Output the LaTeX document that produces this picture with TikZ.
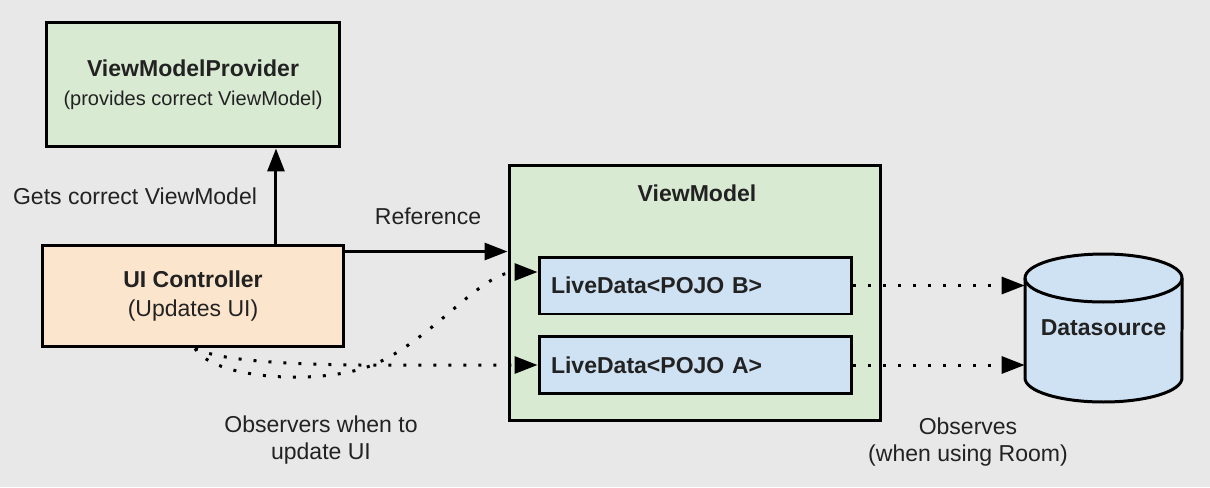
\documentclass[tikz,border=0pt]{standalone}
\usepackage{fontspec}
\setmainfont{Liberation Sans}
\usetikzlibrary{arrows.meta}
\definecolor{bggray}{HTML}{E8E8E8}
\definecolor{lgreen}{HTML}{D9EAD3}
\definecolor{lorange}{HTML}{FCE5CD}
\definecolor{lblue}{HTML}{CFE2F3}
\definecolor{ink}{HTML}{222222}
\begin{document}
\begin{tikzpicture}[x=0.02cm,y=-0.02cm,text=ink,
  font=\fontsize{13.1}{15.4}\selectfont,
  bold/.style={font=\fontsize{13.1}{15.4}\selectfont\bfseries},
  box/.style={draw=black,line width=0.06cm,inner sep=0pt,align=center},
  lbl/.style={inner sep=0pt,align=center},
  arr/.style={line width=0.06cm,-{Triangle[length=0.46cm,width=0.34cm]}},
  dotarr/.style={arr,dash pattern=on 0.06cm off 0.24cm}]
\fill[bggray](0,0) rectangle (1210,487);
\node[box,fill=lgreen,minimum width=5.88cm,minimum height=2.5cm](prov) at (193,84.5){\textbf{ViewModelProvider}\\[1pt]{\fontsize{11.4}{13}\selectfont(provides correct ViewModel)}};
\node[box,fill=lorange,minimum width=6.04cm,minimum height=2.04cm](ui) at (193,296){\textbf{UI Controller}\\[1pt](Updates UI)};
\node[box,fill=lgreen,minimum width=7.44cm,minimum height=5.12cm](vm) at (695,293){};
\node[lbl,bold](vmtitle) at (697,193){ViewModel};
\node[box,fill=lblue,minimum width=6.26cm,minimum height=1.14cm,inner xsep=0.24cm,text width=5.78cm,align=left](ldb) at (695.5,285.5){\textbf{LiveData<POJO B>}};
\node[box,fill=lblue,minimum width=6.26cm,minimum height=1.14cm,inner xsep=0.24cm,text width=5.78cm,align=left](lda) at (695.5,365){\textbf{LiveData<POJO A>}};
\draw[line width=0.06cm,fill=lblue](1025,278)--(1025,378) arc[start angle=180,end angle=360,x radius=1.57cm,y radius=0.48cm]--(1182,278) arc[start angle=0,end angle=180,x radius=1.57cm,y radius=0.48cm]--cycle;
\draw[line width=0.06cm](1025,278) arc[start angle=180,end angle=360,x radius=1.57cm,y radius=0.48cm];
\node[lbl,bold,minimum width=3.14cm,minimum height=2.96cm](db) at (1103.5,328){Datasource};
\coordinate(refstart) at ([yshift=-0.16cm]ui.north east);
\coordinate(obsstart) at ([xshift=0.04cm]ui.south);
\coordinate(obsend) at ([yshift=0.27cm]ldb.west);
\draw[arr]([xshift=1.66cm]ui.north)--([xshift=1.66cm]prov.south);
\draw[arr](refstart)--(refstart -| vm.west);
\draw[dotarr](ldb.east)--(ldb.east -| db.west);
\draw[dotarr](lda.east)--(lda.east -| db.west);
\draw[dotarr](obsstart) .. controls (215,358) and (260,364) .. (360,365)--(lda.west);
\draw[dotarr](obsstart) .. controls (215,380) and (320,385) .. (370,366) .. controls (430,343) and (480,272) .. (obsend);
\node[lbl](getslbl) at (135,196){Gets correct ViewModel};
\node[lbl](reflbl) at (428,216){Reference};
\node[lbl](obslbl) at (321,440){Observers when to\\update UI};
\node[lbl](roomlbl) at (968,442){Observes\\(when using Room)};
\end{tikzpicture}
\end{document}
